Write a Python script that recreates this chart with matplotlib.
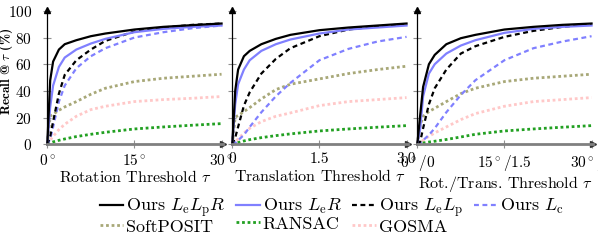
import numpy as np
import matplotlib
matplotlib.use("Agg")
import matplotlib.pyplot as plt

plt.rcParams['font.family'] = 'serif'
plt.rcParams['font.serif'] = ['cmr10']
plt.rcParams['mathtext.fontset'] = 'cm'
plt.rcParams['axes.formatter.use_mathtext'] = True

# rotation threshold (deg)
rot_x = [0, 0.5, 1, 2, 3, 5, 7.5, 10, 15, 20, 25, 30]
rot = {
    "LeLpR": [0, 48, 62, 71, 75, 78, 81, 83, 86, 88, 89.3, 90.5],
    "LeR": [0, 28, 44, 58, 65, 71, 75.5, 79, 84, 86.5, 88, 89],
    "LeLp": [0, 6, 17, 38, 52, 63, 71, 77.5, 84.5, 87.5, 89.5, 90.5],
    "Lc": [0, 4, 13, 32, 44, 57, 66, 72, 80, 84, 87, 89],
    "SoftPOSIT": [0, 21, 22.5, 25.5, 28, 32, 37.5, 42, 47, 49.5, 51, 52.5],
    "RANSAC": [0, 1, 1.8, 3, 4, 5.8, 7.5, 9, 11.5, 13, 14.3, 15.5],
    "GOSMA": [0, 3, 6, 11, 15, 21, 26, 28.5, 32, 33.5, 34.5, 35.8],
}

# translation threshold
trans_x = [0, 0.05, 0.1, 0.2, 0.3, 0.5, 0.75, 1.0, 1.5, 2.0, 2.5, 3.0]
trans = {
    "LeLpR": [0, 40, 56, 66, 70, 75, 79, 82, 85.5, 87.5, 89, 90.5],
    "LeR": [0, 30, 45, 56, 63, 70, 75, 78.5, 83, 86, 87.5, 89],
    "LeLp": [0, 5, 13, 29, 39, 53, 64, 72, 81, 86, 88.5, 90],
    "Lc": [0, 1, 3, 7, 13, 24, 36, 46, 63, 71.5, 77, 80.5],
    "SoftPOSIT": [0, 20.5, 21.5, 24.5, 27.5, 34, 41, 45, 49, 53, 56, 58.5],
    "RANSAC": [0, 0.8, 1.3, 2.5, 3.5, 5, 6.5, 7.8, 10, 11.5, 12.8, 14],
    "GOSMA": [0, 2, 4, 8.5, 12, 17, 21, 23.5, 29, 32, 33.5, 35],
}

# combined rot./trans. threshold (in deg units, trans = deg/10)
both_x = [0, 0.5, 1, 2, 3, 5, 7.5, 10, 15, 20, 25, 30]
both = {
    "LeLpR": [0, 22, 43, 60, 67, 75, 79.5, 82, 86, 88, 89.5, 90.5],
    "LeR": [0, 12, 36, 53, 60, 68, 74, 78, 83.5, 86.5, 88, 89],
    "LeLp": [0, 2, 12, 30, 42, 56, 68, 73.5, 80.5, 85, 88, 90],
    "Lc": [0, 1, 3, 7, 12, 24, 37, 48, 63, 72, 77, 81],
    "SoftPOSIT": [0, 14, 21, 24.5, 27, 32, 38, 42, 47, 49.5, 51, 52.5],
    "RANSAC": [0, 0.5, 1, 1.7, 2.3, 3.6, 5.5, 7.5, 10, 11.5, 12.8, 14],
    "GOSMA": [0, 1.5, 3, 6, 8.5, 13, 18.5, 23, 28.5, 32, 33.5, 35],
}

labels = {
    "LeLpR": r"Ours $L_\mathrm{e}L_\mathrm{p}R$",
    "LeR": r"Ours $L_\mathrm{e}R$",
    "LeLp": r"Ours $L_\mathrm{e}L_\mathrm{p}$",
    "Lc": r"Ours $L_\mathrm{c}$",
    "SoftPOSIT": "SoftPOSIT",
    "RANSAC": "RANSAC",
    "GOSMA": "GOSMA",
}
styles = {
    "LeLpR": dict(color="black", ls="-", lw=1.6),
    "LeR": dict(color="#8080ff", ls="-", lw=1.6),
    "LeLp": dict(color="black", ls=(0, (2.2, 1.6)), lw=1.6),
    "Lc": dict(color="#8080ff", ls=(0, (2.2, 1.6)), lw=1.6),
    "SoftPOSIT": dict(color="#a8a878", ls=(0, (1, 1)), lw=2.0),
    "RANSAC": dict(color="#22a022", ls=(0, (1, 1)), lw=2.0),
    "GOSMA": dict(color="#ffc8c8", ls=(0, (1, 1)), lw=2.0),
}
order = ["GOSMA", "RANSAC", "SoftPOSIT", "Lc", "LeLp", "LeR", "LeLpR"]

panels = [
    (rot_x, rot, 30, [0, 15, 30], [r"$0^\circ$", r"$15^\circ$", r"$30^\circ$"], r"Rotation Threshold $\tau$"),
    (trans_x, trans, 3, [0, 1.5, 3], ["0", "1.5", "3.0"], r"Translation Threshold $\tau$"),
    (both_x, both, 30, [0, 15, 30], [r"$0^\circ/0$", r"$15^\circ/1.5$", r"$30^\circ/3$"], r"Rot./Trans. Threshold $\tau$"),
]

W, H = 598, 242
fig = plt.figure(figsize=(W / 100, H / 100), dpi=100)
lefts = [47.3, 232.3, 417.3]
handles = {}
for i, (xs, data, xmax, ticks, ticklabels, xlabel) in enumerate(panels):
    ax = fig.add_axes([lefts[i] / W, 1 - 144.3 / H, 176 / W, 134.8 / H])
    for key in order:
        h, = ax.plot(xs, data[key], label=labels[key], clip_on=False, **styles[key])
        handles[key] = h
    ax.set_xlim(0, xmax * 1.01)
    ax.set_ylim(0, 101)
    for s in ["top", "right"]:
        ax.spines[s].set_visible(False)
    ax.spines["left"].set_linewidth(0.9)
    ax.spines["bottom"].set_color("#808080")
    ax.spines["bottom"].set_linewidth(2)
    ax.plot([1], [0], marker=">", color="#333333", ms=4, transform=ax.transAxes, clip_on=False)
    ax.plot([0], [1], marker="^", color="black", ms=4, transform=ax.transAxes, clip_on=False)
    ax.set_xticks(ticks)
    ax.set_xticklabels(ticklabels)
    ax.set_yticks([0, 20, 40, 60, 80, 100])
    ax.tick_params(direction="inout", length=6, color="#909090", width=0.8, labelsize=11)
    ax.tick_params(axis="x", pad=3)
    ax.tick_params(axis="y", pad=8)
    if i > 0:
        ax.set_yticklabels([])
    else:
        ax.set_ylabel(r"Recall @ $\tau$ (%)", fontsize=9.5, fontfamily="cmb10")
        ax.yaxis.set_label_coords(-0.185, 0.54)
    ax.set_xlabel(xlabel, fontsize=11.5, labelpad=1)

leg_keys = ["LeLpR", "SoftPOSIT", "LeR", "RANSAC", "LeLp", "GOSMA", "Lc"]
fig.legend([handles[k] for k in leg_keys], [labels[k] for k in leg_keys],
           ncol=4, loc="upper left", bbox_to_anchor=(100 / W, 1 - 196 / H),
           frameon=False, fontsize=13, handlelength=1.3, handletextpad=0.15,
           columnspacing=0.6, labelspacing=0.0, borderpad=0, borderaxespad=0)

fig.savefig("out.png", dpi=100)
